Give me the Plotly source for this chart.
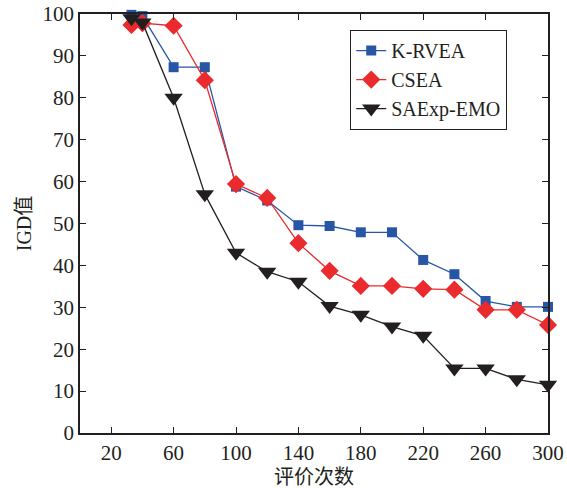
import plotly.graph_objects as go

evals = [33, 40, 60, 80, 100, 120, 140, 160, 180, 200, 220, 240, 260, 280, 300]
krvea = [99.8, 99.5, 87.3, 87.3, 58.8, 55.5, 49.6, 49.4, 47.9, 47.9, 41.3, 37.9, 31.5, 30.1, 30.1]
csea = [97.4, 97.8, 97.2, 84.2, 59.4, 56.1, 45.3, 38.7, 35.1, 35.1, 34.4, 34.2, 29.4, 29.4, 25.8]
saexp = [99.0, 98.0, 80.0, 57.0, 43.0, 38.5, 36.1, 30.3, 28.2, 25.4, 23.2, 15.4, 15.4, 12.8, 11.5]

x_ticks = [20, 60, 100, 140, 180, 220, 260, 300]
y_ticks = [0, 10, 20, 30, 40, 50, 60, 70, 80, 90, 100]

FONT = "Liberation Serif, DejaVu Serif, Noto Sans CJK SC, serif"

fig = go.Figure()
fig.add_trace(go.Scatter(x=evals, y=krvea, name="K-RVEA", mode="lines+markers",
                         line=dict(color="#2756a6", width=1.3),
                         marker=dict(symbol="square", size=10, color="#2756a6"),
                         cliponaxis=False))
fig.add_trace(go.Scatter(x=evals, y=csea, name="CSEA", mode="lines+markers",
                         line=dict(color="#ea2a2d", width=1.3),
                         marker=dict(symbol="diamond", size=14, color="#ea2a2d"),
                         cliponaxis=False))
fig.add_trace(go.Scatter(x=evals, y=saexp, name="SAExp-EMO", mode="lines+markers",
                         line=dict(color="#231f20", width=1.3),
                         marker=dict(symbol="triangle-down", size=16, color="#231f20"),
                         cliponaxis=False))

axis_common = dict(showline=True, linecolor="#231f20", linewidth=1.5, mirror="ticks",
                   ticks="inside", ticklen=6, tickcolor="#231f20", showgrid=False,
                   zeroline=False, automargin=False,
                   tickfont=dict(family=FONT, size=21, color="#231f20"))

fig.update_xaxes(range=[0, 300], tickvals=x_ticks, ticktext=[str(v) for v in x_ticks],
                 title=dict(text="评价次数", font=dict(family=FONT, size=20, color="#231f20"),
                            standoff=6), **axis_common)
fig.update_yaxes(range=[0, 100], tickvals=y_ticks, ticktext=[str(v) for v in y_ticks],
                 title=dict(text="IGD值", font=dict(family=FONT, size=20, color="#231f20"),
                            standoff=6), **axis_common)

fig.update_layout(
    width=567, height=488,
    margin=dict(l=80, r=19, t=14, b=55),
    plot_bgcolor="white", paper_bgcolor="white",
    font=dict(family=FONT, color="#231f20"),
    legend=dict(x=0.577, y=0.962, xanchor="left", yanchor="top",
                bordercolor="#231f20", borderwidth=1.2, bgcolor="white",
                font=dict(family=FONT, size=20, color="#231f20"),
                tracegroupgap=0, itemwidth=30),
    showlegend=True,
)

fig.write_html("out.html", config={"displayModeBar": False},
               post_script="document.body.style.margin='0';document.body.style.overflow='hidden';")
